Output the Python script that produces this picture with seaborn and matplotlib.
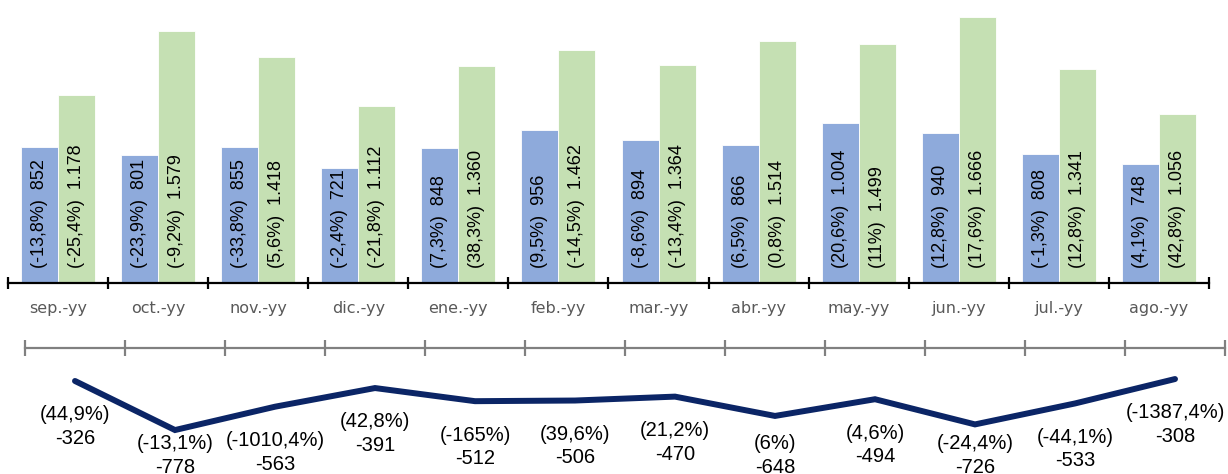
import numpy as np
import pandas as pd
import matplotlib
matplotlib.use("Agg")
import matplotlib.pyplot as plt
import seaborn as sns

# Data
months = ["sep.-yy", "oct.-yy", "nov.-yy", "dic.-yy", "ene.-yy", "feb.-yy",
          "mar.-yy", "abr.-yy", "may.-yy", "jun.-yy", "jul.-yy", "ago.-yy"]
blue_vals = [852, 801, 855, 721, 848, 956, 894, 866, 1004, 940, 808, 748]
blue_pct = ["-13,8", "-23,9", "-33,8", "-2,4", "7,3", "9,5",
            "-8,6", "6,5", "20,6", "12,8", "-1,3", "4,1"]
green_vals = [1178, 1579, 1418, 1112, 1360, 1462, 1364, 1514, 1499, 1666, 1341, 1056]
green_pct = ["-25,4", "-9,2", "5,6", "-21,8", "38,3", "-14,5",
             "-13,4", "0,8", "11", "17,6", "12,8", "42,8"]
balance = [-326, -778, -563, -391, -512, -506, -470, -648, -494, -726, -533, -308]
balance_pct = ["44,9", "-13,1", "-1010,4", "42,8", "-165", "39,6",
               "21,2", "6", "4,6", "-24,4", "-44,1", "-1387,4"]

BLUE = "#8eaadb"
GREEN = "#c5e0b3"
NAVY = "#0b2566"

sns.set_style("white")
plt.rcParams["font.family"] = ["Liberation Sans", "DejaVu Sans"]


def fmt(v):
    return f"{v:,}".replace(",", ".")


df = pd.DataFrame({
    "mes": months * 2,
    "valor": blue_vals + green_vals,
    "serie": ["a"] * len(months) + ["b"] * len(months),
})

fig = plt.figure(figsize=(12.28, 4.74), dpi=100)

# -------------------------
# Top: grouped bars
# -------------------------
ax = fig.add_axes([8 / 1228, 1 - 283 / 474, 1201 / 1228, 283 / 474])
sns.barplot(data=df, x="mes", y="valor", hue="serie", order=months,
            palette=[BLUE, GREEN], width=0.74, saturation=1, legend=False,
            edgecolor="white", linewidth=0.6, ax=ax)
ax.set_xlim(-0.5, len(months) - 0.5)
ax.set_ylim(0, 1773)
ax.set_xlabel("")
ax.set_ylabel("")
ax.set_yticks([])
for s in ["top", "right", "left"]:
    ax.spines[s].set_visible(False)
ax.spines["bottom"].set_linewidth(1.6)
ax.spines["bottom"].set_color("black")
ax.set_xticks(range(len(months)))
ax.set_xticklabels(months, fontfamily="DejaVu Sans", fontsize=11.5, color="#595959")
ax.tick_params(axis="x", which="major", bottom=True, length=0, pad=13)
ax.set_xticks(np.arange(-0.5, len(months)), minor=True)
ax.tick_params(axis="x", which="minor", bottom=True, direction="inout",
               length=9, width=1.6, color="black")

for cont, vals, pcts in [(ax.containers[0], blue_vals, blue_pct),
                         (ax.containers[1], green_vals, green_pct)]:
    for bar, v, p in zip(cont, vals, pcts):
        xc = bar.get_x() + bar.get_width() / 2
        ax.text(xc, 92, f"({p}%)  {fmt(v)}", rotation=90, ha="center",
                va="bottom", fontsize=13, color="black")

# -------------------------
# Bottom: balance line
# -------------------------
ax2 = fig.add_axes([25 / 1228, 0, 1200 / 1228, 126 / 474])
xs = np.arange(len(months))
sns.lineplot(x=xs, y=balance, color=NAVY, linewidth=4.3, ax=ax2,
             solid_capstyle="round", solid_joinstyle="miter")
ax2.set_xlim(-0.5, len(months) - 0.5)
ax2.set_ylim(-1183, -22)
ax2.set_yticks([])
for s in ["bottom", "right", "left"]:
    ax2.spines[s].set_visible(False)
ax2.spines["top"].set_color("#808080")
ax2.spines["top"].set_linewidth(1.6)
ax2.xaxis.set_ticks_position("top")
ax2.set_xticks(np.arange(-0.5, len(months)))
ax2.set_xticklabels([])
ax2.tick_params(axis="x", top=True, direction="inout", length=11, width=1.6,
                color="#808080")

label_y = np.maximum(np.array(balance) - 225, -815)
for x, v, p, ly in zip(xs, balance, balance_pct, label_y):
    ax2.text(x, ly, f"({p}%)\n{v}", ha="center", va="top", fontsize=14.5,
             color="black", linespacing=1.3, clip_on=False)

fig.savefig("out.png", dpi=100)
